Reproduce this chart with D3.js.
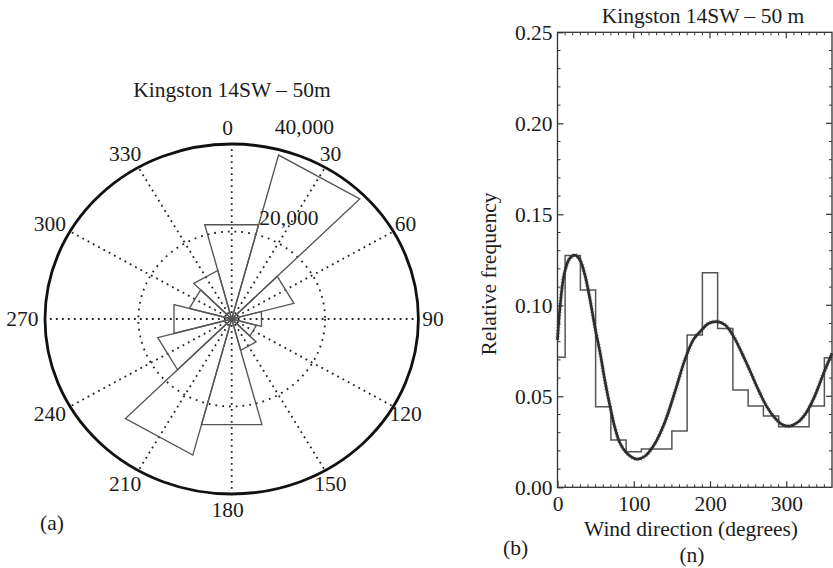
<!DOCTYPE html>
<html>
<head>
<meta charset="utf-8">
<script src="https://cdn.jsdelivr.net/npm/d3@7"></script>
<style>
  html, body { margin: 0; padding: 0; background: #ffffff; }
  svg text { font-family: "Liberation Serif", Tinos, "Times New Roman", Times, "DejaVu Serif", "Noto Serif", serif; font-size: 21.5px; fill: #1c1c1c; }
</style>
</head>
<body>
<svg id="chart" width="833" height="568"></svg>
<script>
// ---- (a) wind rose: counts per 30° sector, bearing in degrees clockwise from north
const roseSectors = [0, 30, 60, 90, 120, 150, 180, 210, 240, 270, 300, 330];
const roseCounts = [22300, 38800, 13800, 6600, 5500, 7400, 25000, 32200, 16400, 12800, 9400, 11500];
const roseRingValues = [20000, 40000];
const roseRingLabels = ["20,000", "40,000"];
const bearingLabels = ["0", "30", "60", "90", "120", "150", "180", "210", "240", "270", "300", "330"];
const roseTitle = "Kingston 14SW \u2013 50m";

// ---- (b) relative frequency of wind direction
const histEdges = [0, 10, 30, 50, 70, 90, 110, 130, 150, 170, 190, 210, 230, 250, 270, 290, 310, 330, 350, 360];
const histFreq = [0.0714, 0.1273, 0.1084, 0.0443, 0.0260, 0.0196, 0.0210, 0.0210, 0.0310, 0.0837,
                  0.1179, 0.0873, 0.0535, 0.0447, 0.0392, 0.0333, 0.0333, 0.0447, 0.0712];
// fitted density curve
const fitDeg = [0, 3.3, 9, 16, 23, 29.5, 36, 42.7, 49, 56, 62, 69, 75.5, 82, 91, 104, 115, 128, 141, 154,
                167, 178, 187, 198, 209, 220, 231, 242, 253, 263.5, 274.5, 285.5, 296, 305, 316, 327, 338, 349, 360];
const fitFreq = [0.081, 0.099, 0.1176, 0.1258, 0.1276, 0.1249, 0.1166, 0.103, 0.0882, 0.0736, 0.059, 0.0443,
                 0.0324, 0.0242, 0.0187, 0.0155, 0.0172, 0.0242, 0.036, 0.0525, 0.070, 0.081, 0.0855, 0.090,
                 0.091, 0.0892, 0.0828, 0.0736, 0.0635, 0.0535, 0.0443, 0.0379, 0.0342, 0.0337, 0.036, 0.0415,
                 0.0507, 0.0626, 0.0736];
const xTicks = [0, 100, 200, 300];
const yTicks = [0, 0.05, 0.10, 0.15, 0.20, 0.25];
const histTitle = "Kingston 14SW \u2013 50 m";
const xTitle = "Wind direction (degrees)";
const yTitle = "Relative frequency";

const FONT = "\"Liberation Serif\", Tinos, \"Times New Roman\", Times, \"DejaVu Serif\", \"Noto Serif\", serif";
const FONT_SIZE = "21.5px";
const svg = d3.select("#chart").style("font-family", FONT);

// ================= (a) polar rose =================
const cx = 231.7, cy = 319;
const rMax = 40000;
const rX = d3.scaleLinear().domain([0, rMax]).range([0, 186.7]);
const rY = d3.scaleLinear().domain([0, rMax]).range([0, 175]);
const rad = d => d * Math.PI / 180;
const pt = (r, deg) => [cx + rX(r) * Math.sin(rad(deg)), cy - rY(r) * Math.cos(rad(deg))];

const rose = svg.append("g");

// dotted spokes
rose.selectAll("line.spoke").data(roseSectors).join("line")
  .attr("x1", cx).attr("y1", cy)
  .attr("x2", d => pt(rMax, d)[0]).attr("y2", d => pt(rMax, d)[1])
  .attr("stroke", "#222").attr("stroke-width", 1.8)
  .attr("stroke-dasharray", "1.8 4.2");

// dotted inner ring(s)
rose.selectAll("ellipse.ring").data(roseRingValues.filter(v => v < rMax)).join("ellipse")
  .attr("cx", cx).attr("cy", cy)
  .attr("rx", d => rX(d)).attr("ry", d => rY(d))
  .attr("fill", "none").attr("stroke", "#222").attr("stroke-width", 1.8)
  .attr("stroke-dasharray", "1.8 5");

// rose wedges (straight outer edge), 30° wide
const half = 15;
rose.selectAll("path.wedge").data(roseSectors.map((s, i) => ({ s, v: roseCounts[i] }))).join("path")
  .attr("d", d => {
    const a = pt(d.v, d.s - half), b = pt(d.v, d.s + half);
    return `M${cx},${cy}L${a[0]},${a[1]}L${b[0]},${b[1]}Z`;
  })
  .attr("fill", "none").attr("stroke", "#555").attr("stroke-width", 1.35)
  .attr("stroke-linejoin", "miter");

// outer boundary
rose.append("ellipse")
  .attr("cx", cx).attr("cy", cy).attr("rx", rX(rMax)).attr("ry", rY(rMax))
  .attr("fill", "none").attr("stroke", "#111").attr("stroke-width", 2.8);

// bearing labels
const labCx = cx - 4;
rose.selectAll("text.bearing").data(roseSectors).join("text")
  .attr("x", d => labCx + rX(rMax) * 1.1 * Math.sin(rad(d)))
  .attr("y", d => cy - rY(rMax) * 1.09 * Math.cos(rad(d)))
  .attr("text-anchor", "middle").attr("dominant-baseline", "central")
  .text((d, i) => bearingLabels[i]);

// ring value labels
const ringLabelOffsets = [[5, -9], [-2, -15]];
rose.selectAll("text.ringlab").data(roseRingValues).join("text")
  .attr("x", (d, i) => pt(d, 14)[0] + ringLabelOffsets[i][0])
  .attr("y", (d, i) => pt(d, 14)[1] + ringLabelOffsets[i][1])
  .attr("text-anchor", "start")
  .text((d, i) => roseRingLabels[i]);

rose.append("text").attr("x", 232).attr("y", 97).attr("text-anchor", "middle").text(roseTitle);
svg.append("text").attr("x", 40).attr("y", 530).text("(a)");

// ================= (b) histogram + fit =================
const x = d3.scaleLinear().domain([0, 360]).range([557.5, 832]);
const y = d3.scaleLinear().domain([0, 0.25]).range([487.3, 32.3]);
const hist = svg.append("g");

// minor ticks (inward) on all four sides
const minorX = d3.range(10, 360, 10).filter(v => v % 100 !== 0);
const minorY = d3.range(0.01, 0.25, 0.01).filter(v => Math.abs(v / 0.05 - Math.round(v / 0.05)) > 1e-6);
const tickCol = "#333";
hist.selectAll("line.mxb").data(minorX).join("line")
  .attr("x1", d => x(d)).attr("x2", d => x(d)).attr("y1", y(0)).attr("y2", y(0) - 3)
  .attr("stroke", tickCol).attr("stroke-width", 1);
hist.selectAll("line.mxt").data(minorX).join("line")
  .attr("x1", d => x(d)).attr("x2", d => x(d)).attr("y1", y(0.25)).attr("y2", y(0.25) + 3)
  .attr("stroke", tickCol).attr("stroke-width", 1);
hist.selectAll("line.myl").data(minorY).join("line")
  .attr("x1", x(0)).attr("x2", x(0) + 3).attr("y1", d => y(d)).attr("y2", d => y(d))
  .attr("stroke", tickCol).attr("stroke-width", 1);
hist.selectAll("line.myr").data(minorY).join("line")
  .attr("x1", x(360)).attr("x2", x(360) - 3).attr("y1", d => y(d)).attr("y2", d => y(d))
  .attr("stroke", tickCol).attr("stroke-width", 1);

// major ticks on top and right
hist.selectAll("line.Mxt").data(xTicks.filter(d => d > 0)).join("line")
  .attr("x1", d => x(d)).attr("x2", d => x(d)).attr("y1", y(0.25)).attr("y2", y(0.25) + 6)
  .attr("stroke", tickCol).attr("stroke-width", 1.2);
hist.selectAll("line.Myr").data(yTicks.filter(d => d > 0 && d < 0.25)).join("line")
  .attr("x1", x(360)).attr("x2", x(360) - 6).attr("y1", d => y(d)).attr("y2", d => y(d))
  .attr("stroke", tickCol).attr("stroke-width", 1.2);

// axes with labels
const xAxis = d3.axisBottom(x).tickValues(xTicks).tickSize(-6).tickPadding(8).tickFormat(d3.format("d"));
const yAxis = d3.axisLeft(y).tickValues(yTicks).tickSize(-6).tickPadding(5).tickFormat(d3.format(".2f"));
const gx = hist.append("g").attr("transform", `translate(0,${y(0)})`).call(xAxis);
const gy = hist.append("g").attr("transform", `translate(${x(0)},0)`).call(yAxis);
[gx, gy].forEach(g => {
  g.attr("font-size", null).attr("font-family", null);
  g.select(".domain").remove();
  g.selectAll(".tick line").attr("stroke", tickCol).attr("stroke-width", 1.2);
  g.selectAll(".tick text").attr("fill", "#1c1c1c")
    .style("font-family", FONT).style("font-size", FONT_SIZE);
});

// histogram stairs
const stepPts = histFreq.map((v, i) => [histEdges[i], v]).concat([[360, histFreq[histFreq.length - 1]]]);
hist.append("path")
  .attr("d", d3.line().x(d => x(d[0])).y(d => y(d[1])).curve(d3.curveStepAfter)(stepPts))
  .attr("fill", "none").attr("stroke", "#555").attr("stroke-width", 1.5);

// fitted curve (dense marker trace look)
const fitPts = fitDeg.map((d, i) => [d, fitFreq[i]]);
const fitLine = d3.line().x(d => x(d[0])).y(d => y(d[1])).curve(d3.curveCatmullRom.alpha(0.5));
hist.append("path").attr("d", fitLine(fitPts))
  .attr("fill", "none").attr("stroke", "#2a2a2a").attr("stroke-width", 2.7);
hist.append("path").attr("d", fitLine(fitPts))
  .attr("fill", "none").attr("stroke", "#444").attr("stroke-width", 4.6)
  .attr("stroke-dasharray", "0.8 2.2").attr("opacity", 0.5);

// frame
hist.append("rect")
  .attr("x", x(0)).attr("y", y(0.25)).attr("width", x(360) - x(0)).attr("height", y(0) - y(0.25))
  .attr("fill", "none").attr("stroke", "#333").attr("stroke-width", 1.3);

// titles
hist.append("text").attr("x", 703).attr("y", 23).attr("text-anchor", "middle").text(histTitle);
hist.append("text").attr("x", 691).attr("y", 536).attr("text-anchor", "middle").text(xTitle);
hist.append("text").attr("transform", "translate(496,274) rotate(-90)").attr("text-anchor", "middle").text(yTitle);
hist.append("text").attr("x", 692).attr("y", 562).attr("text-anchor", "middle").text("(n)");
hist.append("text").attr("x", 503).attr("y", 555).text("(b)");
</script>
</body>
</html>
